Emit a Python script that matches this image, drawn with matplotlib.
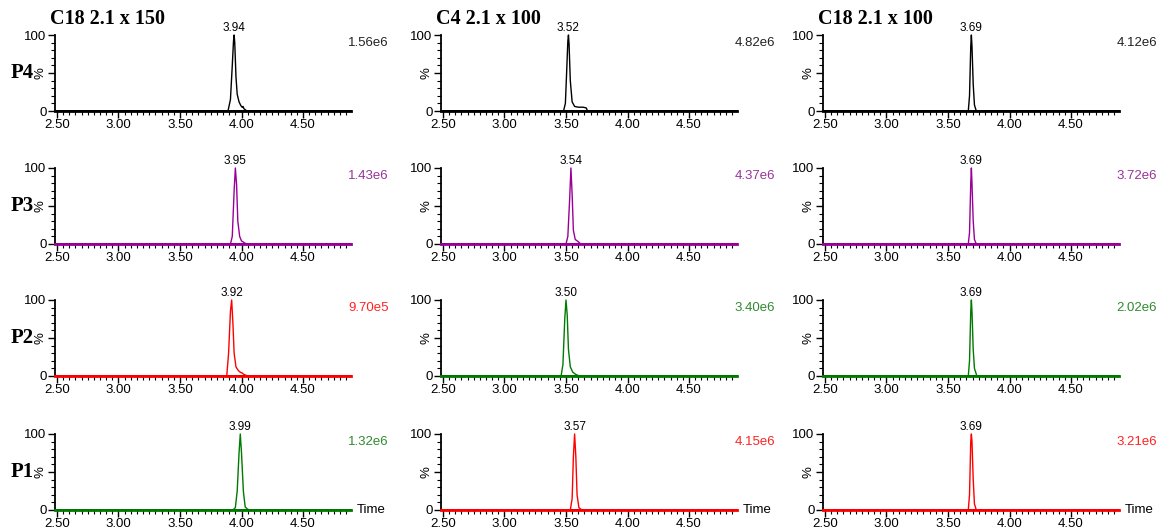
import matplotlib.pyplot as plt
from matplotlib.ticker import MultipleLocator, FixedLocator, FixedFormatter

# column titles and row labels
columns = ["C18 2.1 x 150", "C4 2.1 x 100", "C18 2.1 x 100"]
rows = ["P4", "P3", "P2", "P1"]

# retention times shown above each peak, rows x columns
peak_rt = [[3.94, 3.52, 3.69],
           [3.95, 3.54, 3.69],
           [3.92, 3.50, 3.69],
           [3.99, 3.57, 3.69]]

# base peak intensity labels
intensity = [["1.56e6", "4.82e6", "4.12e6"],
             ["1.43e6", "4.37e6", "3.72e6"],
             ["9.70e5", "3.40e6", "2.02e6"],
             ["1.32e6", "4.15e6", "3.21e6"]]

# trace colours
line_colors = [["black", "black", "black"],
               ["#990099", "#990099", "#990099"],
               ["#ff0000", "#007a00", "#007a00"],
               ["#007a00", "#ff0000", "#ff0000"]]
text_colors = [["#222222", "#222222", "#222222"],
               ["#993399", "#993399", "#993399"],
               ["#ff2222", "#2e8b2e", "#2e8b2e"],
               ["#2e8b2e", "#ff2222", "#ff2222"]]

# chromatogram points (time, % relative intensity)
t_c1_p4 = [2.484, 3.89, 3.91, 3.925, 3.935, 3.94, 3.945, 3.955, 3.965, 3.98, 3.995, 4.005, 4.012, 4.02, 4.035, 4.05, 4.89]
y_c1_p4 = [0, 0, 15, 60, 92, 100, 90, 45, 22, 12, 7, 5, 6, 3, 1, 0, 0]
t_c1_p3 = [2.484, 3.91, 3.925, 3.94, 3.95, 3.96, 3.97, 3.985, 4.0, 4.02, 4.04, 4.89]
y_c1_p3 = [0, 0, 10, 70, 100, 78, 30, 10, 4, 2, 0, 0]
t_c1_p2 = [2.484, 3.88, 3.895, 3.91, 3.92, 3.93, 3.94, 3.955, 3.975, 3.99, 4.005, 4.02, 4.05, 4.89]
y_c1_p2 = [0, 0, 30, 85, 100, 70, 30, 12, 7, 5, 4, 2, 0, 0]
t_c1_p1 = [2.484, 3.93, 3.95, 3.965, 3.98, 3.99, 4.0, 4.015, 4.03, 4.05, 4.07, 4.89]
y_c1_p1 = [0, 0, 3, 25, 75, 100, 75, 25, 4, 1, 0, 0]

t_c2_p4 = [2.484, 3.48, 3.495, 3.505, 3.515, 3.52, 3.525, 3.535, 3.55, 3.57, 3.6, 3.64, 3.665, 3.675, 4.89]
y_c2_p4 = [0, 0, 10, 50, 92, 100, 88, 40, 12, 6, 5, 5, 4, 0, 0]
t_c2_p3 = [2.484, 3.5, 3.515, 3.53, 3.54, 3.55, 3.56, 3.575, 3.6, 3.62, 4.89]
y_c2_p3 = [0, 0, 10, 60, 100, 65, 18, 6, 3, 0, 0]
t_c2_p2 = [2.484, 3.46, 3.475, 3.49, 3.5, 3.51, 3.52, 3.535, 3.555, 3.58, 3.61, 4.89]
y_c2_p2 = [0, 0, 15, 75, 100, 80, 35, 12, 5, 2, 0, 0]
t_c2_p1 = [2.484, 3.535, 3.55, 3.56, 3.57, 3.58, 3.59, 3.605, 3.63, 4.89]
y_c2_p1 = [0, 0, 15, 70, 100, 70, 20, 3, 0, 0]

t_c3_p4 = [2.484, 3.665, 3.675, 3.685, 3.69, 3.695, 3.705, 3.715, 3.73, 4.89]
y_c3_p4 = [0, 0, 20, 85, 100, 85, 35, 8, 0, 0]
t_c3_p3 = [2.484, 3.665, 3.675, 3.685, 3.69, 3.695, 3.705, 3.715, 3.73, 4.89]
y_c3_p3 = [0, 0, 15, 80, 100, 80, 30, 6, 0, 0]
t_c3_p2 = [2.484, 3.665, 3.675, 3.685, 3.69, 3.695, 3.705, 3.715, 3.735, 4.89]
y_c3_p2 = [0, 0, 20, 85, 100, 85, 35, 10, 0, 0]
t_c3_p1 = [2.484, 3.665, 3.675, 3.685, 3.69, 3.695, 3.705, 3.715, 3.73, 4.89]
y_c3_p1 = [0, 0, 20, 90, 100, 90, 40, 8, 0, 0]

traces = [[(t_c1_p4, y_c1_p4), (t_c2_p4, y_c2_p4), (t_c3_p4, y_c3_p4)],
          [(t_c1_p3, y_c1_p3), (t_c2_p3, y_c2_p3), (t_c3_p3, y_c3_p3)],
          [(t_c1_p2, y_c1_p2), (t_c2_p2, y_c2_p2), (t_c3_p2, y_c3_p2)],
          [(t_c1_p1, y_c1_p1), (t_c2_p1, y_c2_p1), (t_c3_p1, y_c3_p1)]]

x_ticks = [2.5, 3.0, 3.5, 4.0, 4.5]

W, H = 1157, 531
fig = plt.figure(figsize=(W / 100, H / 100), dpi=100)
plt.rcParams['font.family'] = ['Liberation Sans', 'DejaVu Sans']

col_left = [55, 441, 823]
row_top = [35, 168, 300, 434]
ax_w, ax_h = 296, 76
serif = ['Liberation Serif', 'DejaVu Serif']

for r in range(4):
    for c in range(3):
        ax = fig.add_axes([col_left[c] / W, 1 - (row_top[r] + ax_h) / H, ax_w / W, ax_h / H])
        t, y = traces[r][c]
        ax.plot(t, y, color=line_colors[r][c], lw=1.0, clip_on=False, zorder=5)
        ax.plot([t[0], t[-1]], [0, 0], color=line_colors[r][c], lw=2.0, clip_on=False, zorder=4)
        ax.set_xlim(2.484, 4.89)
        ax.set_ylim(0, 100)
        for s in ['top', 'right']:
            ax.spines[s].set_visible(False)
        ax.spines['left'].set_linewidth(1.3)
        ax.spines['bottom'].set_linewidth(1.3)
        ax.xaxis.set_major_locator(FixedLocator(x_ticks))
        ax.set_xticklabels(["%.2f" % v for v in x_ticks])
        ax.xaxis.set_minor_locator(MultipleLocator(0.05))
        ax.yaxis.set_major_locator(FixedLocator([0, 50, 100]))
        ax.yaxis.set_major_formatter(FixedFormatter(["0", "%", "100"]))
        ax.yaxis.set_minor_locator(MultipleLocator(10))
        ax.tick_params(axis='both', which='major', length=5, width=1.0, labelsize=9.5, pad=1)
        ax.tick_params(axis='both', which='minor', length=3, width=0.8)
        ax.get_yticklabels()[1].set_rotation(90)
        ax.get_yticklabels()[1].set_va('center')
        ax.text(peak_rt[r][c], 101, "%.2f" % peak_rt[r][c], ha='center', va='bottom', fontsize=8.5)
        ax.text(1.0 + 38 / ax_w, 0.97, intensity[r][c], transform=ax.transAxes,
                ha='right', va='top', fontsize=9.5, color=text_colors[r][c])
        if r == 3:
            ax.text(1.0 + 6 / ax_w, 0.0, "Time", transform=ax.transAxes,
                    ha='left', va='center', fontsize=9.5)
        if r == 0:
            ax.text(-5 / ax_w, 1.08, columns[c], transform=ax.transAxes, ha='left', va='bottom',
                    fontsize=14.5, fontweight='bold', family=serif)
        if c == 0:
            ax.text(-21 / ax_w, 0.5, rows[r], transform=ax.transAxes, ha='right', va='center',
                    fontsize=15, fontweight='bold', family=serif)

fig.savefig("out.png", dpi=100)
